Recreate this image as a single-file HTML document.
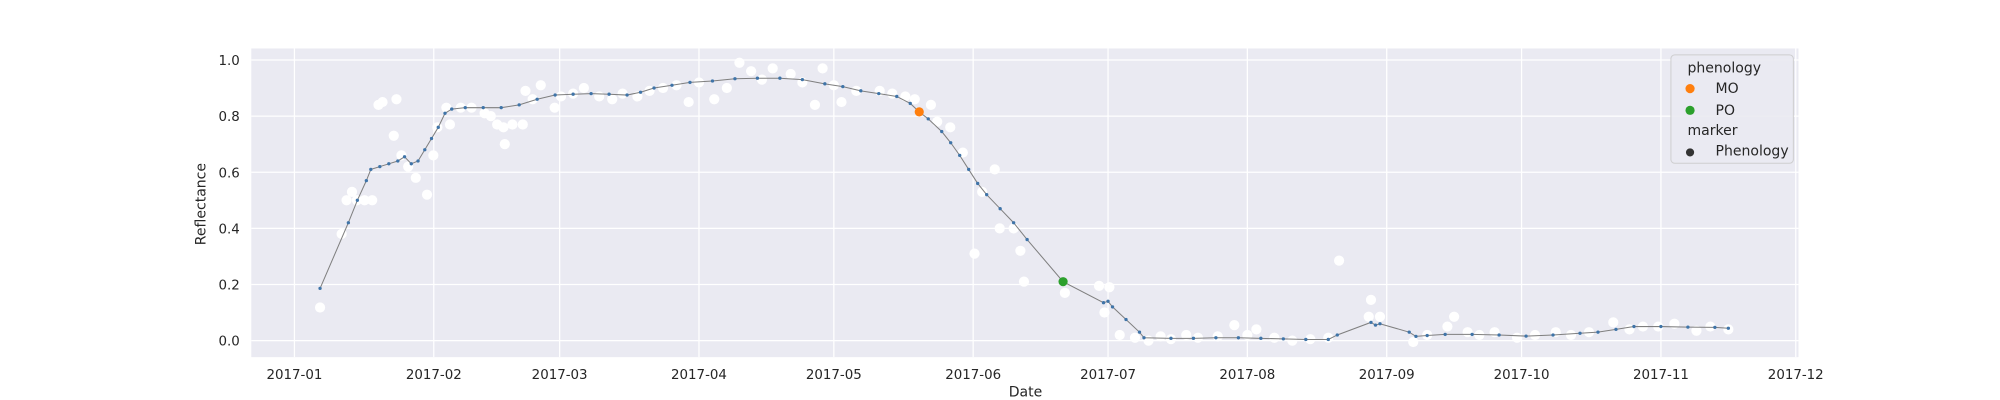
<!DOCTYPE html>
<html><head><meta charset="utf-8"><style>
html,body{margin:0;padding:0;background:#fff;}
svg{display:block;font-family:"DejaVu Sans","Liberation Sans",sans-serif;}
</style></head><body>
<svg id="chart" width="2000" height="400" viewBox="0 0 1568 313.6" xmlns="http://www.w3.org/2000/svg">
<rect x="197" y="38" width="1213" height="242" fill="#eaeaf2"/>
<g id="grid"></g>
<g id="ticks"></g>
<g id="obs"></g>
<g id="line"></g>
<g id="pheno"></g>
<text x="161" y="160" transform="rotate(-90 161 160)" text-anchor="middle" font-size="11" fill="#262626">Reflectance</text>
<text x="804" y="311" text-anchor="middle" font-size="11" fill="#262626">Date</text>
<g>
<rect x="1310" y="43" width="96" height="85" rx="3" fill="#eaeaf2" stroke="#cccccc" stroke-width="0.8" opacity="0.9"/>
<text x="1323" y="57" font-size="11" fill="#262626">phenology</text>
<circle cx="1325" cy="69.5" r="3.6" fill="#ff7f0e"/>
<text x="1345" y="73" font-size="11" fill="#262626">MO</text>
<circle cx="1325" cy="86.5" r="3.6" fill="#2ca02c"/>
<text x="1345" y="90" font-size="11" fill="#262626">PO</text>
<text x="1323" y="106" font-size="11" fill="#262626">marker</text>
<circle cx="1325" cy="119.5" r="3.2" fill="#333333"/>
<text x="1345" y="122" font-size="11" fill="#262626">Phenology</text>
</g>
</svg>
<script>
const yTicks = [0.0, 0.2, 0.4, 0.6, 0.8, 1.0];
const yTickLabels = ["0.0", "0.2", "0.4", "0.6", "0.8", "1.0"];
const xTickDays = [0, 31, 59, 90, 120, 151, 181, 212, 243, 273, 304, 334];
const xTickLabels = ["2017-01","2017-02","2017-03","2017-04","2017-05","2017-06","2017-07","2017-08","2017-09","2017-10","2017-11","2017-12"];
const obsDay = [5.7,10.5,11.6,12.8,13.9,15.6,17.3,18.7,19.6,22.1,22.7,23.8,25.3,27,29.5,30.9,31.8,33.8,34.6,37,39.4,42.3,43.7,45.1,46.5,46.8,48.5,50.8,51.4,53,54.8,57.9,59.3,62,64.4,67.8,70.7,73,76.3,79,82,85,87.7,90,93.4,96.2,99,101.6,104,106.4,110.4,113,115.8,117.5,120,121.7,125,130.2,133,135.9,138,141.6,143,145.9,148.7,151.3,153,155.8,156.9,160,161.5,162.3,171.4,179,181.3,180.2,183.6,187,190,192.7,195,198.4,201,205.4,209.1,212,214,218,222,226,230,232.4,239.5,239,241.5,248.9,252,256.5,258,261,263.6,267,272,276,280.6,284,288,293.4,297,300,303.4,307,311.9,315,319];
const obsVal = [0.118,0.38,0.50,0.53,0.50,0.50,0.50,0.84,0.85,0.73,0.86,0.66,0.62,0.58,0.52,0.66,0.76,0.83,0.77,0.83,0.83,0.81,0.80,0.77,0.76,0.70,0.77,0.77,0.89,0.86,0.91,0.83,0.87,0.88,0.90,0.87,0.86,0.88,0.87,0.89,0.90,0.91,0.85,0.92,0.86,0.90,0.99,0.96,0.93,0.97,0.95,0.92,0.84,0.97,0.91,0.85,0.89,0.89,0.88,0.87,0.86,0.84,0.78,0.76,0.67,0.31,0.53,0.61,0.40,0.40,0.32,0.21,0.17,0.195,0.19,0.10,0.02,0.01,0.0,0.015,0.005,0.02,0.01,0.015,0.055,0.02,0.04,0.01,0.0,0.005,0.01,0.285,0.145,0.085,0.085,-0.005,0.02,0.05,0.085,0.03,0.02,0.03,0.01,0.02,0.03,0.02,0.03,0.065,0.04,0.05,0.05,0.06,0.035,0.05,0.04];
const lineDay = [5.7,12,14,16,17,19,21,23,24.5,26,27.5,29,30.5,32,33.5,35,38,42,46,50,54,58,62,66,70,74,77,80,84,88,93,98,103,108,113,118,122,126,130,134,137,139,141,144,146,148,150,152,154,157,160,163,171,180,181,182,185,188,189,195,200,205,210,215,220,225,230,232,239.5,240.5,241.5,248,249.5,252,256,262,268,274,280,286,290,294,298,304,310,316,319];
const lineVal = [0.186,0.42,0.50,0.57,0.61,0.62,0.63,0.64,0.655,0.63,0.64,0.68,0.72,0.76,0.81,0.825,0.83,0.83,0.83,0.84,0.86,0.875,0.878,0.88,0.878,0.875,0.885,0.90,0.91,0.92,0.925,0.933,0.935,0.935,0.93,0.915,0.905,0.89,0.88,0.87,0.845,0.815,0.79,0.745,0.705,0.66,0.61,0.56,0.52,0.47,0.42,0.36,0.21,0.135,0.14,0.12,0.075,0.03,0.01,0.008,0.008,0.01,0.01,0.008,0.006,0.004,0.004,0.02,0.065,0.055,0.06,0.03,0.015,0.018,0.022,0.022,0.02,0.016,0.02,0.026,0.03,0.04,0.05,0.05,0.048,0.047,0.044];
const phenoNames = ["MO", "PO"];
const phenoDay = [139, 171];
const phenoVal = [0.815, 0.21];
const phenoColors = ["#ff7f0e", "#2ca02c"];

const NS = "http://www.w3.org/2000/svg";
const X0 = 197, X1 = 1410, Y0 = 38, Y1 = 280;
const dMin = -9.6, dMax = 334.6, vMin = -0.059, vMax = 1.041;
function xs(d){ return X0 + (d - dMin) / (dMax - dMin) * (X1 - X0); }
function ys(v){ return Y1 - (v - vMin) / (vMax - vMin) * (Y1 - Y0); }
function mk(tag, attrs, parent){ const e = document.createElementNS(NS, tag); for (const k in attrs) e.setAttribute(k, attrs[k]); parent.appendChild(e); return e; }

const grid = document.getElementById('grid');
const ticks = document.getElementById('ticks');
yTicks.forEach((v, i) => {
  const l = mk('line', {x1: X0, x2: X1, y1: ys(v), y2: ys(v), stroke: '#fff', 'stroke-width': 1}, grid);
  
  
  const t = mk('text', {x: X0 - 9, y: ys(v) + 4, 'text-anchor': 'end', 'font-size': 10.5, fill: '#262626'}, ticks);
  t.textContent = yTickLabels[i];
  
  
});
xTickDays.forEach((d, i) => {
  const l = mk('line', {x1: xs(d), x2: xs(d), y1: Y0, y2: Y1, stroke: '#fff', 'stroke-width': 1}, grid);
  
  
  const t = mk('text', {x: xs(d), y: 297, 'text-anchor': 'middle', 'font-size': 10.5, fill: '#262626'}, ticks);
  t.textContent = xTickLabels[i];
  
  
});

const obs = document.getElementById('obs');
obsDay.forEach((d, i) => {
  const c = mk('circle', {cx: xs(d), cy: ys(obsVal[i]), r: 4, fill: '#ffffff'}, obs);
  
  
});

const lg = document.getElementById('line');
const pts = lineDay.map((d, i) => xs(d).toFixed(2) + ',' + ys(lineVal[i]).toFixed(2)).join(' ');
const pl = mk('polyline', {points: pts, fill: 'none', stroke: '#7f7f7f', 'stroke-width': 0.8}, lg);


lineDay.forEach((d, i) => {
  const c = mk('circle', {cx: xs(d), cy: ys(lineVal[i]), r: 1.3, fill: '#3f74a8'}, lg);
  
  
});

const ph = document.getElementById('pheno');
phenoDay.forEach((d, i) => {
  const c = mk('circle', {cx: xs(d), cy: ys(phenoVal[i]), r: 3.6, fill: phenoColors[i]}, ph);
  
  
});
</script>
</body></html>
